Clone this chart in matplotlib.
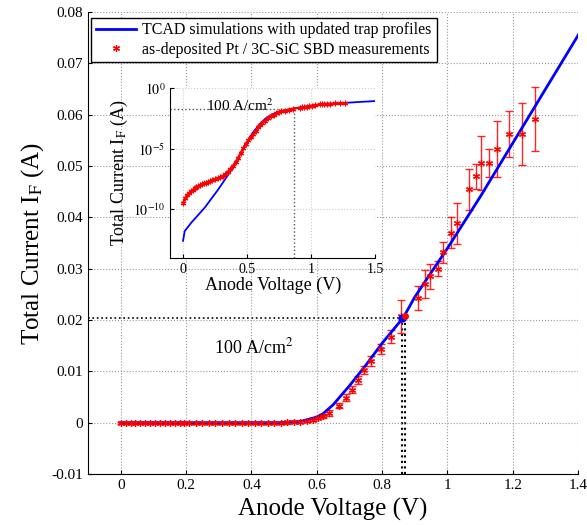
import matplotlib
matplotlib.use('Agg')
import matplotlib.pyplot as plt

plt.rcParams['font.family'] = ['Liberation Serif', 'DejaVu Serif']
plt.rcParams['mathtext.fontset'] = 'stix'

# TCAD simulation (anode voltage V, current A)
sim_v = [0.0, 0.013, 0.065, 0.17, 0.275, 0.38, 0.484, 0.55, 0.6, 0.62, 0.65, 0.7,
         0.75, 0.8, 0.865, 0.9, 1.0, 1.1, 1.2, 1.3, 1.4, 1.5]
sim_i = [2.5e-13, 1.6e-12, 8e-12, 1.4e-10, 4.4e-9, 1.9e-7, 2.1e-5, 2.5e-4, 1.1e-3, 1.8e-3,
         3.5e-3, 7.2e-3, 1.12e-2, 1.55e-2, 2.05e-2, 2.45e-2, 3.4e-2, 4.4e-2, 5.45e-2,
         6.5e-2, 7.55e-2, 8.6e-2]

# measurements of as-deposited Pt / 3C-SiC SBD
meas_v = [0.0, 0.015, 0.03, 0.045, 0.06, 0.075, 0.09, 0.105, 0.12, 0.135, 0.15, 0.165,
          0.18, 0.195, 0.21, 0.23, 0.25, 0.27, 0.29, 0.31, 0.33, 0.35, 0.37, 0.39, 0.41,
          0.43, 0.45, 0.47, 0.49, 0.51, 0.53, 0.55, 0.57, 0.587, 0.605, 0.62, 0.638,
          0.667, 0.688, 0.708, 0.725, 0.746, 0.766, 0.795, 0.826, 0.859, 0.91, 0.93,
          0.945, 0.971, 0.987, 1.01, 1.03, 1.066, 1.087, 1.102, 1.128, 1.15, 1.187,
          1.227, 1.268]
meas_i = [3.5e-10, 8e-10, 1.4e-9, 2.2e-9, 3e-9, 4e-9, 5.5e-9, 7e-9, 8.5e-9, 1e-8, 1.2e-8,
          1.4e-8, 1.6e-8, 1.9e-8, 2.2e-8, 2.6e-8, 3e-8, 3.6e-8, 4.5e-8, 5.8e-8, 8e-8,
          1.3e-7, 2.2e-7, 4e-7, 8e-7, 1.7e-6, 4.5e-6, 1.1e-5, 2.5e-5, 5e-5, 9e-5, 1.7e-4,
          3.2e-4, 6e-4, 1e-3, 1.3e-3, 1.9e-3, 3.3e-3, 4.9e-3, 6.4e-3, 8.4e-3, 1.02e-2,
          1.2e-2, 1.44e-2, 1.68e-2, 2.07e-2, 2.43e-2, 2.7e-2, 2.85e-2, 3.0e-2, 3.32e-2,
          3.7e-2, 3.89e-2, 4.55e-2, 4.8e-2, 5.06e-2, 5.06e-2, 5.33e-2, 5.62e-2, 5.62e-2,
          5.92e-2]
meas_err = [0.0002] * 33 + [0.0003, 0.0003, 0.0004, 0.0005, 0.0005, 0.0007, 0.0007,
            0.0008, 0.0008, 0.001, 0.001, 0.0012, 0.0033, 0.0023, 0.0027, 0.0025,
            0.0015, 0.002, 0.003, 0.004, 0.004, 0.0025, 0.0053, 0.0027, 0.0055,
            0.0045, 0.006, 0.0062]

# 100 A/cm^2 operating point
v_ref = 0.865
i_ref = 0.0205

x_ticks = [0, 0.2, 0.4, 0.6, 0.8, 1.0, 1.2, 1.4]
x_labels = ['0', '0.2', '0.4', '0.6', '0.8', '1', '1.2', '1.4']
y_ticks = [-0.01, 0, 0.01, 0.02, 0.03, 0.04, 0.05, 0.06, 0.07, 0.08]
y_labels = ['-0.01', '0', '0.01', '0.02', '0.03', '0.04', '0.05', '0.06', '0.07', '0.08']

fig = plt.figure(figsize=(5.87, 5.25), dpi=100)
ax = fig.add_axes([0.15, 0.097, 0.835, 0.88])

ax.errorbar(meas_v, meas_i, yerr=meas_err, fmt='none', ecolor='red', elinewidth=1,
            capsize=3, alpha=0.85, zorder=2)
ax.plot(sim_v, sim_i, color='blue', lw=2, zorder=3,
        label='TCAD simulations with updated trap profiles')
ax.plot(meas_v, meas_i, ls='none', marker=(6, 2, 0), ms=5, mew=0.9, color='red', zorder=4,
        label='as-deposited Pt / 3C-SiC SBD measurements')

# reference lines
ax.hlines(i_ref, -0.1, v_ref, colors='black', linestyles=':', lw=1.2, zorder=1)
ax.vlines([v_ref - 0.004, v_ref + 0.004], -0.01, i_ref, colors='black', linestyles=':',
          lw=1.5, zorder=1)
ax.plot(v_ref - 0.003, i_ref, 'o', color='blue', ms=5, zorder=5)
ax.plot(v_ref + 0.004, i_ref + 0.0002, 'o', color='red', ms=4, zorder=5)
ax.text(0.285, 0.0135, '100 A/cm$^2$', fontsize=13)

ax.set_xlim(-0.1, 1.4)
ax.set_ylim(-0.01, 0.08)
ax.set_xticks(x_ticks)
ax.set_xticklabels(x_labels)
ax.set_yticks(y_ticks)
ax.set_yticklabels(y_labels)
ax.tick_params(direction='in', length=3, labelsize=11)
ax.grid(True, ls=':', color='#999999', lw=0.8)
for s in ['top', 'right']:
    ax.spines[s].set_visible(False)
ax.set_xlabel('Anode Voltage (V)', fontsize=18)
ax.set_ylabel('Total Current I$_\\mathrm{F}$ (A)', fontsize=18)

leg = ax.legend(loc='upper left', bbox_to_anchor=(0.0, 0.995), fontsize=11.5,
                frameon=True, fancybox=False, edgecolor='black', framealpha=1,
                borderpad=0.3, handlelength=2.5, handletextpad=0.4, labelspacing=0.2,
                borderaxespad=0.2)
leg.get_frame().set_linewidth(1)

# inset: log scale
ins = fig.add_axes([0.29, 0.509, 0.349, 0.323])
ins.semilogy(sim_v, sim_i, color='blue', lw=1.3, zorder=3)
ins.plot(meas_v, meas_i, ls='-', lw=1.5, color='red', marker=(6, 2, 0), ms=4, mew=0.8,
         zorder=4)
ins.hlines(i_ref, -0.1, v_ref, colors='#555555', linestyles=':', lw=1, zorder=1)
ins.vlines(v_ref, 1e-14, i_ref, colors='#555555', linestyles=':', lw=1, zorder=1)
ins.text(0.18, 0.014, '100 A/cm$^2$', fontsize=11)
ins.set_xlim(-0.1, 1.5)
ins.set_ylim(1e-14, 1)
ins.set_xticks([0, 0.5, 1, 1.5])
ins.set_xticklabels(['0', '0.5', '1', '1.5'])
ins.set_yticks([1e-10, 1e-5, 1])
ins.set_yticklabels(['$10^{-10}$', '$10^{-5}$', '$10^{0}$'])
ins.minorticks_off()
ins.tick_params(direction='in', length=3, labelsize=10)
ins.grid(True, ls=':', color='#cccccc', lw=0.8)
for s in ['top', 'right']:
    ins.spines[s].set_visible(False)
ins.set_xlabel('Anode Voltage (V)', fontsize=13, labelpad=1)
ins.set_ylabel('Total Current I$_\\mathrm{F}$ (A)', fontsize=13, labelpad=2)

fig.savefig('out.png', dpi=100)
